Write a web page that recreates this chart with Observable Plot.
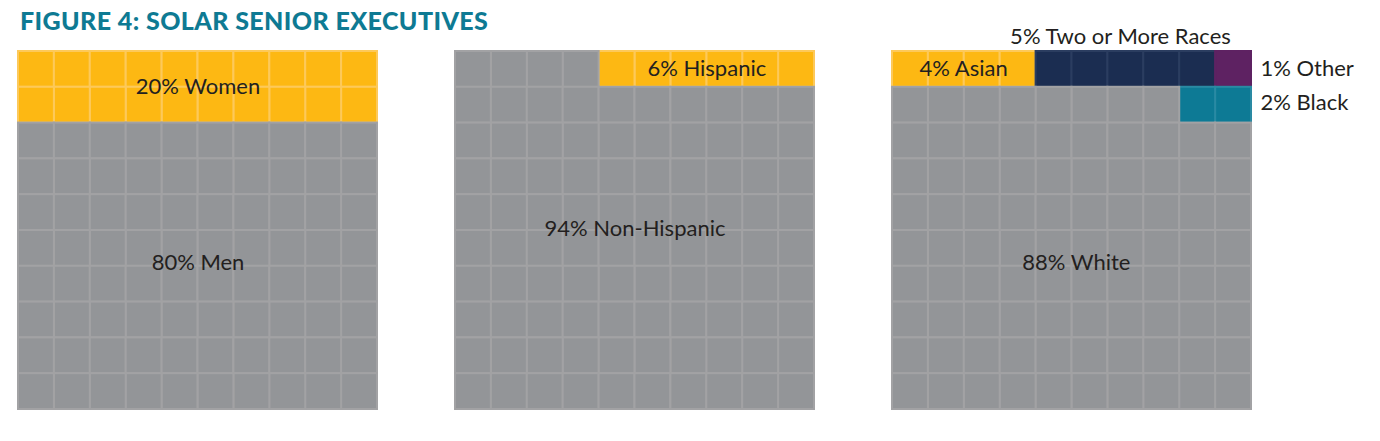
<!DOCTYPE html>
<html>
<head>
<meta charset="utf-8">
<script src="https://cdn.jsdelivr.net/npm/d3@7"></script>
<script src="https://cdn.jsdelivr.net/npm/@observablehq/plot@0.6"></script>
<style>
  html, body { margin: 0; padding: 0; background: #ffffff; }
  #wrap { position: relative; width: 1380px; height: 441px; overflow: hidden; }
  #title { position: absolute; left: 20px; top: 6px; font-family: Lato, sans-serif; font-weight: 900;
           font-size: 25px; line-height: 28px; color: #0e7a93; letter-spacing: 0.4px; white-space: nowrap; }
  #chart { position: absolute; left: 0; top: 0; }
</style>
</head>
<body>
<div id="wrap">
  <div id="chart"></div>
  <div id="title">FIGURE 4: SOLAR SENIOR EXECUTIVES</div>
</div>
<script>
// ---- data ----
const panels = ["Gender", "Ethnicity", "Race"];
const genderCats = ["Women", "Men"];
const genderPcts = [20, 80];
const ethnicityCats = ["Hispanic", "Non-Hispanic"];
const ethnicityPcts = [6, 94];
const raceCats = ["Asian", "Two or More Races", "Other", "Black", "White"];
const racePcts = [4, 5, 1, 2, 88];

// ---- styling / layout ----
const fillColor = {
  Women: "#fdb813", Men: "#939598",
  Hispanic: "#fdb813", "Non-Hispanic": "#939598",
  Asian: "#fdb813", "Two or More Races": "#1b2d51", Other: "#5e2262", Black: "#0d7a95", White: "#939598"
};
const strokeColor = {
  Women: "#fdc95a", Men: "#a2a2a4",
  Hispanic: "#fdc95a", "Non-Hispanic": "#a2a2a4",
  Asian: "#fdc95a", "Two or More Races": "#2b3d60", Other: "#5e2262", Black: "#2a8aa3", White: "#a2a2a4"
};
// serpentine fill: first row direction per panel
const startRight = { Gender: false, Ethnicity: true, Race: false };
// label anchors in grid units [col, row, anchor]
const labelPos = {
  Women: [5, 1, "middle"], Men: [5, 5.9, "middle"],
  Hispanic: [7, 0.5, "middle"], "Non-Hispanic": [5, 4.97, "middle"],
  Asian: [1.98, 0.5, "middle"], "Two or More Races": [6.35, -0.4, "middle"],
  Other: [10.25, 0.5, "start"], Black: [10.25, 1.45, "start"],
  White: [5.12, 5.9, "middle"]
};

const groups = [
  { panel: "Gender", cats: genderCats, pcts: genderPcts },
  { panel: "Ethnicity", cats: ethnicityCats, pcts: ethnicityPcts },
  { panel: "Race", cats: raceCats, pcts: racePcts }
];

const cells = [];
const labels = [];
for (const g of groups) {
  let i = 0;
  g.cats.forEach((c, k) => {
    for (let n = 0; n < g.pcts[k]; n++, i++) {
      const row = Math.floor(i / 10);
      let col = i % 10;
      const rtl = (row % 2 === 0) === startRight[g.panel];
      if (rtl) col = 9 - col;
      cells.push({ panel: g.panel, cat: c, row, col });
    }
    const p = labelPos[c];
    labels.push({ panel: g.panel, cat: c, text: `${g.pcts[k]}% ${c}`, x: p[0], y: p[1], anchor: p[2] });
  });
}

const textMark = (anchor) => Plot.text(labels.filter(d => d.anchor === anchor), {
  fx: "panel", x: "x", y: "y", text: "text", textAnchor: anchor,
  fontSize: 22, fill: "#231f20", fontFamily: "Lato, sans-serif"
});

const chart = Plot.plot({
  width: 1380,
  height: 441,
  marginTop: 51,
  marginBottom: 32,
  marginLeft: 17,
  marginRight: 127,
  fx: { domain: panels, paddingInner: 0.178, paddingOuter: 0, axis: null },
  x: { domain: [0, 10], axis: null },
  y: { domain: [0, 10], reverse: true, axis: null },
  style: { background: "transparent", overflow: "visible" },
  marks: [
    Plot.rect(cells, {
      fx: "panel",
      x1: "col", x2: d => d.col + 1,
      y1: "row", y2: d => d.row + 1,
      fill: d => fillColor[d.cat],
      stroke: d => strokeColor[d.cat],
      strokeWidth: 2
    }),
    textMark("middle"),
    textMark("start")
  ]
});
document.getElementById("chart").appendChild(chart);
</script>
</body>
</html>
